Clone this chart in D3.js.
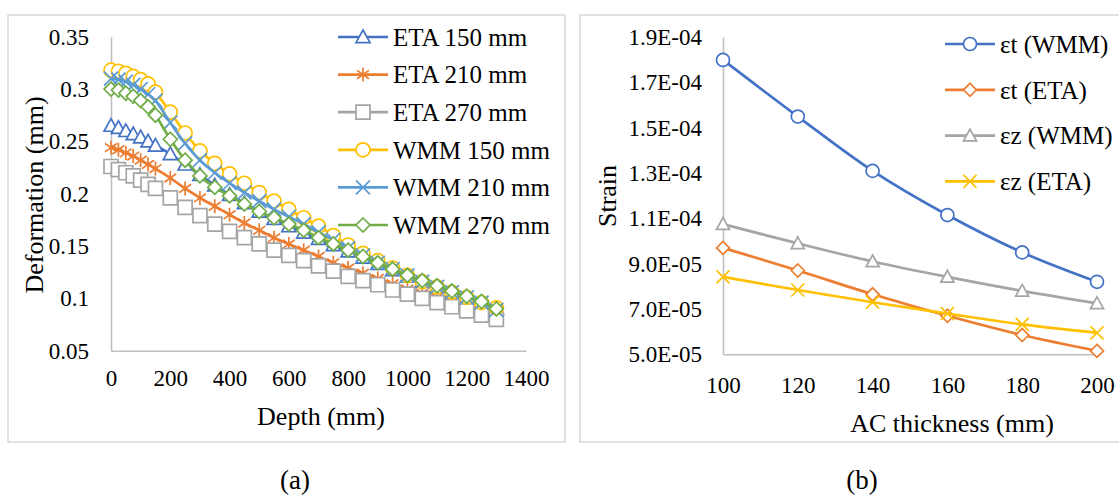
<!DOCTYPE html>
<html>
<head>
<meta charset="utf-8">
<script src="https://cdn.jsdelivr.net/npm/d3@7/dist/d3.min.js"></script>
<style>
  body { margin: 0; background: #fff; }
  svg { display: block; }
  text { font-family: "Liberation Serif", "Times New Roman", serif; fill: #000; }
  .axis path { stroke: #bfbfbf; stroke-width: 1.6px; }
</style>
</head>
<body>
<svg id="chart" width="1119" height="495"></svg>
<script>
// ---- data (a): deformation vs depth ----
const depth = [0, 25, 50, 75, 100, 125, 150, 200, 250, 300, 350, 400, 450, 500, 550, 600,
               650, 700, 750, 800, 850, 900, 950, 1000, 1050, 1100, 1150, 1200, 1250, 1300];
const eta150 = [0.265, 0.263, 0.260, 0.257, 0.254, 0.250, 0.246, 0.238, 0.228, 0.218, 0.208, 0.199, 0.191, 0.183, 0.176, 0.169,
                0.163, 0.157, 0.151, 0.145, 0.139, 0.133, 0.127, 0.121, 0.116, 0.111, 0.106, 0.101, 0.096, 0.090];
const eta210 = [0.244, 0.242, 0.239, 0.236, 0.232, 0.228, 0.224, 0.215, 0.205, 0.196, 0.188, 0.180, 0.172, 0.165, 0.158, 0.152,
                0.146, 0.140, 0.134, 0.129, 0.124, 0.119, 0.114, 0.109, 0.105, 0.101, 0.097, 0.093, 0.089, 0.085];
const eta270 = [0.226, 0.223, 0.220, 0.217, 0.213, 0.209, 0.205, 0.196, 0.187, 0.179, 0.171, 0.164, 0.158, 0.152, 0.146, 0.141,
                0.136, 0.131, 0.126, 0.121, 0.117, 0.113, 0.108, 0.104, 0.100, 0.096, 0.092, 0.088, 0.084, 0.080];
const wmm150 = [0.318, 0.317, 0.315, 0.312, 0.309, 0.305, 0.297, 0.278, 0.258, 0.241, 0.229, 0.219, 0.210, 0.201, 0.193, 0.185,
                0.177, 0.169, 0.160, 0.151, 0.143, 0.136, 0.129, 0.122, 0.116, 0.111, 0.106, 0.101, 0.096, 0.091];
const wmm210 = [0.310, 0.309, 0.307, 0.304, 0.300, 0.295, 0.289, 0.268, 0.248, 0.232, 0.220, 0.210, 0.201, 0.193, 0.185, 0.178,
                0.171, 0.163, 0.156, 0.148, 0.141, 0.134, 0.128, 0.122, 0.116, 0.111, 0.106, 0.101, 0.096, 0.089];
const wmm270 = [0.300, 0.299, 0.296, 0.293, 0.289, 0.283, 0.275, 0.252, 0.232, 0.217, 0.206, 0.198, 0.190, 0.183, 0.177, 0.171,
                0.165, 0.158, 0.152, 0.146, 0.140, 0.134, 0.128, 0.122, 0.117, 0.112, 0.107, 0.102, 0.097, 0.090];
const depthTicks = [0, 200, 400, 600, 800, 1000, 1200, 1400];
const deformTicks = [0.05, 0.1, 0.15, 0.2, 0.25, 0.3, 0.35];

// ---- data (b): strain vs AC thickness ----
const thickness = [100, 120, 140, 160, 180, 200];
const etWMM = [1.80e-4, 1.55e-4, 1.31e-4, 1.115e-4, 9.5e-5, 8.2e-5];
const etETA = [9.7e-5, 8.7e-5, 7.65e-5, 6.7e-5, 5.85e-5, 5.15e-5];
const ezWMM = [1.075e-4, 9.9e-5, 9.1e-5, 8.42e-5, 7.8e-5, 7.25e-5];
const ezETA = [8.42e-5, 7.84e-5, 7.3e-5, 6.8e-5, 6.32e-5, 5.95e-5];
const thickTicks = [100, 120, 140, 160, 180, 200];
const strainTicks = [5.0e-5, 7.0e-5, 9.0e-5, 1.1e-4, 1.3e-4, 1.5e-4, 1.7e-4, 1.9e-4];

const svg = d3.select("#chart");

// panel frames
svg.append("rect").attr("x", 8).attr("y", 15).attr("width", 557).attr("height", 427)
    .attr("fill", "none").attr("stroke", "#d9d9d9").attr("stroke-width", 1.5);
svg.append("rect").attr("x", 580).attr("y", 15).attr("width", 560).attr("height", 427)
    .attr("fill", "none").attr("stroke", "#d9d9d9").attr("stroke-width", 1.5);

// marker shapes, drawn around 0,0
function markerPath(type, s) {
    const h = s / 2;
    switch (type) {
        case "triangle": return `M0,${-h}L${h},${h * 0.8}L${-h},${h * 0.8}Z`;
        case "square": return `M${-h},${-h}H${h}V${h}H${-h}Z`;
        case "diamond": return `M0,${-h}L${h},0L0,${h}L${-h},0Z`;
        case "x": return `M${-h},${-h}L${h},${h}M${-h},${h}L${h},${-h}`;
        case "star": return `M0,${-h}V${h}M${-h * 0.85},${-h * 0.6}L${h * 0.85},${h * 0.6}M${-h * 0.85},${h * 0.6}L${h * 0.85},${-h * 0.6}`;
        default: return d3.symbol(d3.symbolCircle, Math.PI * h * h)();
    }
}

function drawMarker(g, type, color, size, x, y) {
    g.append("path")
        .attr("transform", `translate(${x},${y})`)
        .attr("d", markerPath(type, size))
        .attr("fill", (type === "x" || type === "star") ? "none" : "#fff")
        .attr("stroke", color)
        .attr("stroke-width", 1.7);
}

function drawSeries(g, xs, ys, x, y, s, size) {
    const pts = xs.map((d, i) => [x(d), y(ys[i])]);
    g.append("path")
        .datum(pts)
        .attr("fill", "none")
        .attr("stroke", s.color)
        .attr("stroke-width", 2.7)
        .attr("d", d3.line().curve(d3.curveCatmullRom.alpha(0.5)));
    pts.forEach(p => drawMarker(g, s.marker, s.color, size, p[0], p[1]));
}

function drawLegend(g, list, x0, y0, step, size) {
    list.forEach((s, i) => {
        const y = y0 + i * step;
        g.append("line").attr("x1", x0).attr("x2", x0 + 50).attr("y1", y).attr("y2", y)
            .attr("stroke", s.color).attr("stroke-width", 2.7);
        drawMarker(g, s.marker, s.color, size, x0 + 25, y);
        g.append("text").attr("x", x0 + 55).attr("y", y).attr("dy", "0.35em")
            .attr("font-size", 25).text(s.name);
    });
}

// ================= chart (a) =================
const ax = d3.scaleLinear().domain([0, 1400]).range([111, 526]);
const ay = d3.scaleLinear().domain([0.05, 0.35]).range([350.7, 36.7]);

const ga = svg.append("g");
ga.append("g").attr("class", "axis")
    .attr("transform", `translate(0,${ay(0.05)})`)
    .call(d3.axisBottom(ax).tickValues(depthTicks).tickSize(0).tickPadding(19).tickFormat(d3.format("d")))
    .call(g => g.selectAll("text").attr("font-size", 23).style("font-family", "Liberation Serif"));
ga.append("g").attr("class", "axis")
    .attr("transform", `translate(${ax(0)},0)`)
    .call(d3.axisLeft(ay).tickValues(deformTicks).tickSize(0).tickPadding(22).tickFormat(d => String(d)))
    .call(g => g.selectAll("text").attr("font-size", 23).style("font-family", "Liberation Serif"));

const seriesA = [
    { name: "ETA 150 mm", values: eta150, color: "#4472C4", marker: "triangle" },
    { name: "ETA 210 mm", values: eta210, color: "#ED7D31", marker: "star" },
    { name: "ETA 270 mm", values: eta270, color: "#A5A5A5", marker: "square" },
    { name: "WMM 150 mm", values: wmm150, color: "#FFC000", marker: "circle" },
    { name: "WMM 210 mm", values: wmm210, color: "#5B9BD5", marker: "x" },
    { name: "WMM 270 mm", values: wmm270, color: "#70AD47", marker: "diamond" }
];
seriesA.forEach(s => drawSeries(ga, depth, s.values, ax, ay, s, 14));
drawLegend(ga, seriesA, 338, 37, 37.6, 14);

ga.append("text").attr("x", 321).attr("y", 416).attr("dy", "0.35em")
    .attr("text-anchor", "middle").attr("font-size", 26).text("Depth (mm)");
ga.append("text").attr("transform", "translate(34,195) rotate(-90)").attr("dy", "0.35em")
    .attr("text-anchor", "middle").attr("font-size", 26).text("Deformation (mm)");

// ================= chart (b) =================
const bx = d3.scaleLinear().domain([100, 200]).range([723, 1097]);
const by = d3.scaleLinear().domain([5.0e-5, 1.9e-4]).range([354.3, 37.3]);
const sciFormat = d => {
    const [m, e] = d.toExponential(1).split("e");
    const n = Math.abs(+e);
    return m + "E" + (+e < 0 ? "-" : "+") + (n < 10 ? "0" + n : n);
};

const gb = svg.append("g");
gb.append("g").attr("class", "axis")
    .attr("transform", `translate(0,${by(5.0e-5)})`)
    .call(d3.axisBottom(bx).tickValues(thickTicks).tickSize(0).tickPadding(22).tickFormat(d3.format("d")))
    .call(g => g.selectAll("text").attr("font-size", 23).style("font-family", "Liberation Serif"));
gb.append("g").attr("class", "axis")
    .attr("transform", `translate(${bx(100)},0)`)
    .call(d3.axisLeft(by).tickValues(strainTicks).tickSize(0).tickPadding(21).tickFormat(sciFormat))
    .call(g => g.selectAll("text").attr("font-size", 23).style("font-family", "Liberation Serif"));

const seriesB = [
    { name: "εt (WMM)", values: etWMM, color: "#4472C4", marker: "circle" },
    { name: "εt (ETA)", values: etETA, color: "#ED7D31", marker: "diamond" },
    { name: "εz (WMM)", values: ezWMM, color: "#A5A5A5", marker: "triangle" },
    { name: "εz (ETA)", values: ezETA, color: "#FFC000", marker: "x" }
];
seriesB.forEach(s => drawSeries(gb, thickness, s.values, bx, by, s, 13));
drawLegend(gb, seriesB, 945, 44, 45.8, 13);

gb.append("text").attr("x", 952).attr("y", 423).attr("dy", "0.35em")
    .attr("text-anchor", "middle").attr("font-size", 26).text("AC thickness (mm)");
gb.append("text").attr("transform", "translate(607,196) rotate(-90)").attr("dy", "0.35em")
    .attr("text-anchor", "middle").attr("font-size", 26).text("Strain");

// panel captions
svg.append("text").attr("x", 295).attr("y", 480).attr("dy", "0.35em")
    .attr("text-anchor", "middle").attr("font-size", 27).text("(a)");
svg.append("text").attr("x", 862).attr("y", 480).attr("dy", "0.35em")
    .attr("text-anchor", "middle").attr("font-size", 27).text("(b)");
</script>
</body>
</html>
